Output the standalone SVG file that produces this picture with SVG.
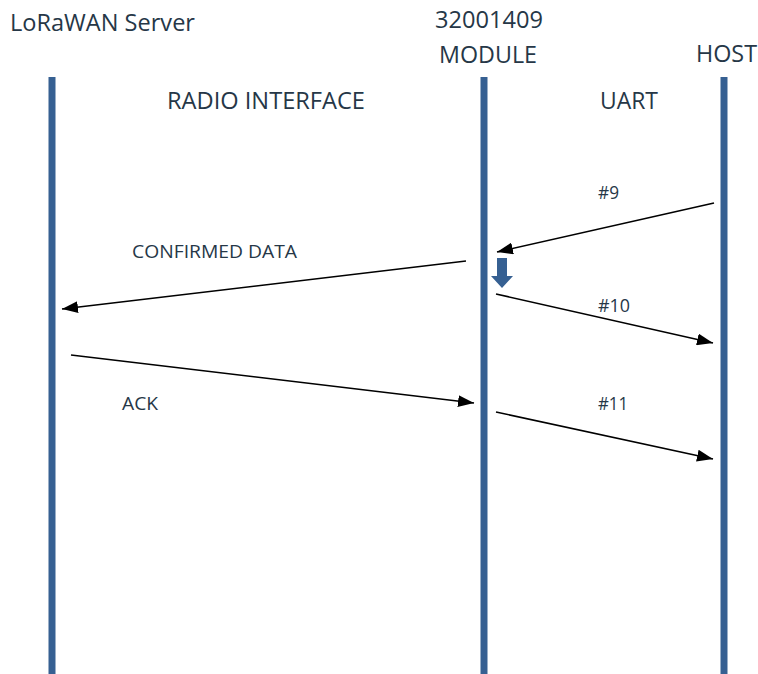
<svg xmlns="http://www.w3.org/2000/svg" width="758" height="674" viewBox="0 0 758 674">
<style>
.t{font-family:"Open Sans","Liberation Sans",sans-serif;fill:#263747}
.big{font-size:23px}
.sm{font-size:18.5px}
.life{stroke:#366092;stroke-width:7;fill:none}
.msg{stroke:#000;stroke-width:1.6;fill:none;marker-end:url(#ah)}
</style>
<defs>
<marker id="ah" viewBox="0 0 16 12" refX="16" refY="6" markerWidth="16" markerHeight="12" markerUnits="userSpaceOnUse" orient="auto">
<path d="M0,0 L16,6 L0,12 Z" fill="#000"/>
</marker>
</defs>
<rect width="758" height="674" fill="#fff"/>
<g id="server">
<line class="life" x1="52" y1="77" x2="52" y2="674"/>
<text class="t big" x="10" y="31" textLength="185" lengthAdjust="spacingAndGlyphs">LoRaWAN Server</text>
</g>
<g id="module">
<line class="life" x1="484" y1="77" x2="484" y2="674"/>
<text class="t big" x="435" y="28" textLength="108" lengthAdjust="spacingAndGlyphs">32001409</text>
<text class="t big" x="439" y="63" textLength="98" lengthAdjust="spacingAndGlyphs">MODULE</text>
<path d="M497,258 H507 V276 H513 L502,288 L491,276 H497 Z" fill="#366092"/>
</g>
<g id="host">
<line class="life" x1="724" y1="77" x2="724" y2="674"/>
<text class="t big" x="696" y="62" textLength="61" lengthAdjust="spacingAndGlyphs">HOST</text>
</g>
<g id="labels">
<text class="t big" x="167" y="109" textLength="198" lengthAdjust="spacingAndGlyphs">RADIO INTERFACE</text>
<text class="t big" x="600" y="109" textLength="58" lengthAdjust="spacingAndGlyphs">UART</text>
</g>
<g id="connectors">
<line class="msg" x1="714" y1="203" x2="497" y2="252"/>
<text class="t sm" x="598" y="199" textLength="21" lengthAdjust="spacingAndGlyphs">#9</text>
<line class="msg" x1="466" y1="261" x2="62" y2="309"/>
<text class="t sm" x="132" y="258" textLength="165" lengthAdjust="spacingAndGlyphs">CONFIRMED DATA</text>
<line class="msg" x1="496" y1="294" x2="713" y2="343"/>
<text class="t sm" x="598" y="312" textLength="32" lengthAdjust="spacingAndGlyphs">#10</text>
<line class="msg" x1="71" y1="355" x2="474" y2="403"/>
<text class="t sm" x="122" y="410" textLength="36" lengthAdjust="spacingAndGlyphs">ACK</text>
<line class="msg" x1="496" y1="412" x2="713" y2="459"/>
<text class="t sm" x="598" y="410" textLength="30" lengthAdjust="spacingAndGlyphs">#11</text>
</g>
</svg>
